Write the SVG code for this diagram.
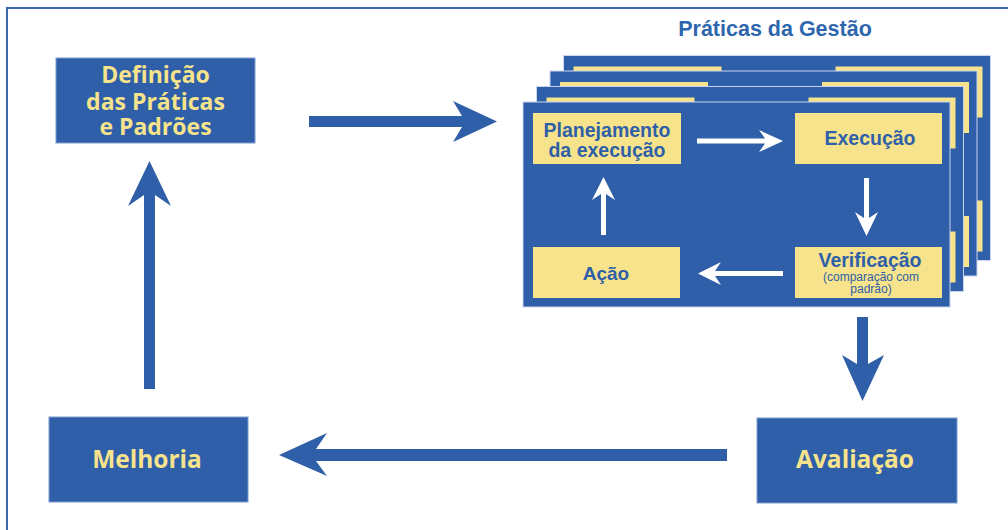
<svg xmlns="http://www.w3.org/2000/svg" xmlns:xlink="http://www.w3.org/1999/xlink" width="1008" height="530" viewBox="0 0 1008 530">
<style>
.node{fill:#2f5fa8;stroke:#7f9ccf;stroke-width:1}
.ntext{font-family:"Open Sans","Noto Sans",sans-serif;font-weight:bold;fill:#f6e38c;text-anchor:middle}
.card{fill:#2f5fa8;stroke:#c9d6ee;stroke-width:1}
.ybox{fill:#f6e38c}
.itext{font-family:"Liberation Sans",Arial,sans-serif;font-weight:bold;fill:#2f5fa8;text-anchor:middle}
.small{font-family:"Liberation Sans",Arial,sans-serif;fill:#2f5fa8;text-anchor:middle}
.big{fill:#2f5fa8}
.wa{fill:#ffffff}
</style>
<defs>
<g id="cardback">
<rect class="card" x="523" y="102" width="427" height="205"/>
<rect class="ybox" x="533" y="113" width="148" height="51"/>
<rect class="ybox" x="795" y="113" width="147" height="51"/>
<rect class="ybox" x="533" y="247" width="147" height="51"/>
<rect class="ybox" x="795" y="247" width="147" height="51"/>
</g>
</defs>
<rect x="7" y="8" width="1010" height="540" fill="#ffffff" stroke="#3a66ad" stroke-width="2"/>
<text x="775" y="36" font-family="'Liberation Sans',Arial,sans-serif" font-weight="bold" font-size="21.5" fill="#2e66ae" text-anchor="middle">Práticas da Gestão</text>
<g id="stack">
<use xlink:href="#cardback" href="#cardback" transform="translate(40.5,-46.5)"/>
<use xlink:href="#cardback" href="#cardback" transform="translate(27,-31)"/>
<use xlink:href="#cardback" href="#cardback" transform="translate(13.5,-15.5)"/>
<rect class="card" x="523" y="102" width="427" height="205"/>
</g>
<g id="planejamento">
<rect class="ybox" x="533" y="113" width="148" height="51"/>
<text class="itext" font-size="19.5" x="607" y="137">Planejamento</text>
<text class="itext" font-size="19.5" x="607" y="157">da execução</text>
</g>
<g id="execucao">
<rect class="ybox" x="795" y="113" width="147" height="51"/>
<text class="itext" font-size="19.5" x="870" y="145">Execução</text>
</g>
<g id="verificacao">
<rect class="ybox" x="795" y="247" width="147" height="51"/>
<text class="itext" font-size="19.5" x="870" y="267">Verificação</text>
<text class="small" font-size="12" x="871" y="281">(comparação com</text>
<text class="small" font-size="12" x="871" y="293">padrão)</text>
</g>
<g id="acao">
<rect class="ybox" x="533" y="247" width="147" height="51"/>
<text class="itext" font-size="19" x="606" y="280">Ação</text>
</g>
<g id="definicao">
<rect class="node" x="56" y="58" width="199" height="85"/>
<text class="ntext" font-size="23" x="155.5" y="83">Definição</text>
<text class="ntext" font-size="23" x="155.5" y="110">das Práticas</text>
<text class="ntext" font-size="23" x="155.5" y="135">e Padrões</text>
</g>
<g id="melhoria">
<rect class="node" x="49" y="417" width="199" height="85"/>
<text class="ntext" font-size="24.5" x="147" y="468">Melhoria</text>
</g>
<g id="avaliacao">
<rect class="node" x="757" y="418" width="200" height="85"/>
<text class="ntext" font-size="24.5" x="855" y="468">Avaliação</text>
</g>
<g id="connectors">
<polygon class="big" points="309,116 462,116 453,101 497,121.5 453,142 462,127 309,127"/>
<polygon class="big" points="857,317 868,317 868,364 884,355 862.5,401 842,355 857,364"/>
<polygon class="big" points="727,449 727,461 316,461 327,476 279,455 327,433 316,449"/>
<polygon class="big" points="144,389 155,389 155,195 171,206 149.5,161 128,206 144,195"/>
<polygon class="wa" points="697,138.5 765,138.5 759,130 783,141 759,152 765,143.5 697,143.5"/>
<polygon class="wa" points="864,178 869,178 869,218 878,212 866.5,236 855,212 864,218"/>
<polygon class="wa" points="783,271 783,276 715,276 721,285 698,273.5 721,262 715,271"/>
<polygon class="wa" points="601,235 606,235 606,194 615,200 603.5,177 592,200 601,194"/>
</g>
</svg>
